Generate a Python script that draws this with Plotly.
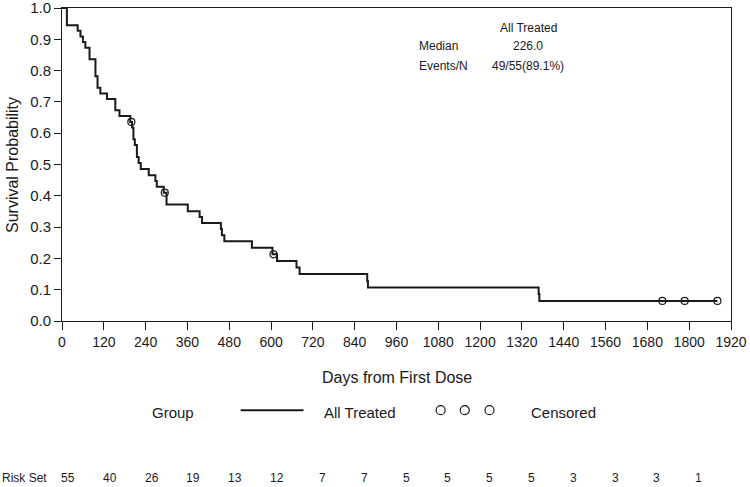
import plotly.graph_objects as go

# Kaplan-Meier steps (days, survival after the step)
step_days = [0, 14, 45, 53, 60, 67, 79, 96, 102, 110, 129, 153, 165, 196,
             201, 205, 209, 215, 220, 226, 249, 268, 272, 292, 300, 361, 395,
             402, 456, 459, 466, 545, 604, 617, 673, 682, 876, 878, 1368,
             1370, 1881]
step_surv = [1.0, 0.945, 0.927, 0.909, 0.891, 0.873, 0.836, 0.782, 0.745,
             0.727, 0.709, 0.673, 0.655, 0.636, 0.618, 0.581, 0.562, 0.524,
             0.505, 0.486, 0.466, 0.447, 0.429, 0.410, 0.372, 0.351, 0.332,
             0.313, 0.294, 0.274, 0.255, 0.234, 0.213, 0.192, 0.171, 0.150,
             0.128, 0.107, 0.086, 0.064, 0.064]

# censored observations
cens_days = [199, 295, 607, 1723, 1787, 1881]
cens_surv = [0.636, 0.410, 0.213, 0.064, 0.064, 0.064]

# number at risk every 120 days
risk_days = [0, 120, 240, 360, 480, 600, 720, 840, 960, 1080, 1200, 1320,
             1440, 1560, 1680, 1800]
risk_n = [55, 40, 26, 19, 13, 12, 7, 7, 5, 5, 5, 5, 3, 3, 3, 1]

x_ticks = list(range(0, 1921, 120))
y_ticks = [round(i / 10, 1) for i in range(11)]

FONT = "Arial, Liberation Sans, sans-serif"
INK = "#1a1a1a"

fig = go.Figure()
fig.add_trace(go.Scatter(x=step_days, y=step_surv, mode="lines",
                         line=dict(color=INK, width=2, shape="hv"),
                         showlegend=False, hoverinfo="skip"))
fig.add_trace(go.Scatter(x=cens_days, y=cens_surv, mode="markers",
                         marker=dict(symbol="circle-open", size=7,
                                     color=INK, line=dict(width=1.2)),
                         showlegend=False))

fig.update_layout(
    width=750, height=487,
    margin=dict(l=62, r=19, t=8, b=166, autoexpand=False),
    paper_bgcolor="white", plot_bgcolor="white",
    font=dict(family=FONT, color=INK),
    showlegend=False,
)
fig.update_xaxes(range=[0, 1920], tickvals=x_ticks, ticks="outside",
                 ticklen=8, tickwidth=1, tickcolor=INK, showline=True,
                 linecolor=INK, linewidth=1, mirror=True, showgrid=False,
                 zeroline=False, tickfont=dict(size=14), automargin=False,
                 ticklabeloverflow="allow")
fig.update_yaxes(range=[0, 1], tickvals=y_ticks, tickformat=".1f",
                 ticks="outside", ticklen=7, tickwidth=1, tickcolor=INK,
                 showline=True, linecolor=INK, linewidth=1, mirror=True,
                 showgrid=False, zeroline=False, tickfont=dict(size=15),
                 automargin=False, ticklabeloverflow="allow")


def note(x, y, text, size, xanchor="center", xref="paper", **kw):
    fig.add_annotation(x=x, y=y, xref=xref, yref="paper", text=text,
                       showarrow=False, xanchor=xanchor, yanchor="middle",
                       font=dict(size=size), **kw)


# axis titles
note(0.5, -0.182, "Days from First Dose", 16)
note(-0.074, 0.5, "Survival Probability", 16, textangle=-90)

# inset statistics table
stats = [("All Treated", None, 0.935), ("226.0", "Median", 0.878),
         ("49/55(89.1%)", "Events/N", 0.815)]
for val, lab, yy in stats:
    note(0.697, yy, val, 12)
    if lab:
        note(0.530, yy, lab, 12, xanchor="left")

# legend row
leg_y = -0.291
note(0.166, leg_y, "Group", 15)
fig.add_shape(type="line", xref="paper", yref="paper", x0=0.267, x1=0.361,
              y0=leg_y + 0.006, y1=leg_y + 0.006,
              line=dict(color=INK, width=2))
note(0.446, leg_y, "All Treated", 15)
for cx in [0.566, 0.602, 0.639]:
    fig.add_shape(type="circle", xref="paper", yref="paper",
                  xsizemode="pixel", ysizemode="pixel", xanchor=cx,
                  yanchor=leg_y + 0.006, x0=-4.5, x1=4.5, y0=-4.5, y1=4.5,
                  line=dict(color=INK, width=1.2))
note(0.749, leg_y, "Censored", 15)

# number-at-risk row
risk_y = -0.502
note(0, risk_y, "Risk Set", 12, xanchor="left", xshift=-62)
for d, n in zip(risk_days, risk_n):
    note(d, risk_y, str(n), 12, xanchor="right", xref="x", xshift=15)

# drop the browser's default page margin so the figure sits at 0,0
fig.write_html("out.html", config={"displayModeBar": False},
               post_script="document.body.style.margin='0';")
